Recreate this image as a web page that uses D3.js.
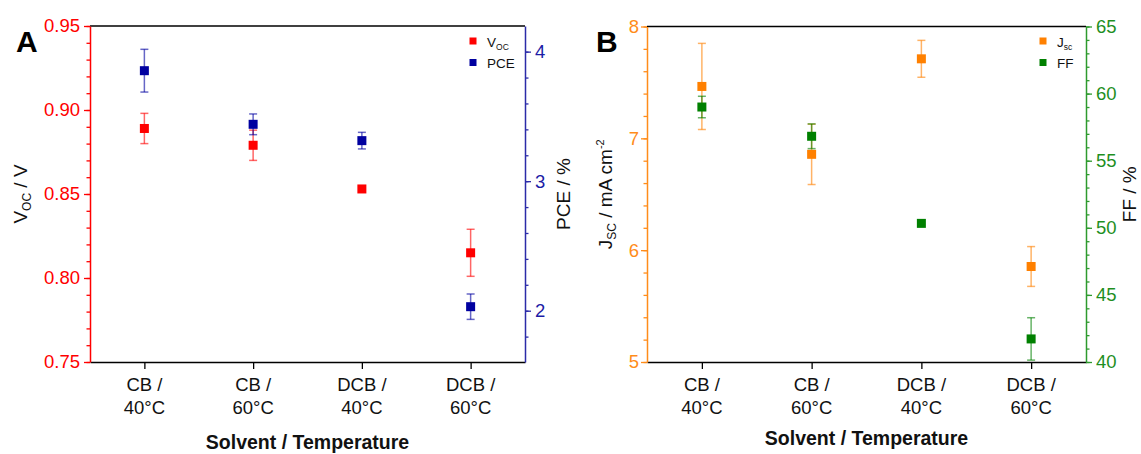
<!DOCTYPE html>
<html>
<head>
<meta charset="utf-8">
<script src="https://cdn.jsdelivr.net/npm/d3@7"></script>
<style>
body { margin: 0; background: #fff; }
svg { font-family: "Liberation Sans", Arial, sans-serif; }
</style>
</head>
<body>
<svg width="1141" height="454"></svg>
<script>
// categories (solvent / temperature)
const categories = ["CB / 40°C", "CB / 60°C", "DCB / 40°C", "DCB / 60°C"];

// panel A
const vocMean = [0.889, 0.879, 0.853, 0.815];
const vocErr = [0.009, 0.009, 0, 0.014];
const pceMean = [3.853, 3.439, 3.313, 2.031];
const pceErr = [0.165, 0.08, 0.064, 0.098];

// panel B
const jscMean = [7.464, 6.857, 7.711, 5.854];
const jscErr = [0.385, 0.27, 0.165, 0.178];
const ffMean = [59.0, 56.82, 50.33, 41.72];
const ffErr = [0.8, 0.92, 0, 1.58];

// tick labels
const vocTicks = [0.75, 0.80, 0.85, 0.90, 0.95];
const pceTicks = [2, 3, 4];
const jscTicks = [5, 6, 7, 8];
const ffTicks = [40, 45, 50, 55, 60, 65];

const svg = d3.select("svg");

function drawPanel(p) {
    const g = svg.append("g");

    const x = d3.scalePoint()
        .domain(categories)
        .range([p.x0, p.x1])
        .padding(0.5);
    const yL = d3.scaleLinear().domain(p.left.domain).range([p.y1, p.y0]);
    const yR = d3.scaleLinear().domain(p.right.domain).range([p.y1, p.y0]);

    // top frame line
    g.append("line")
        .attr("x1", p.x0).attr("x2", p.x1)
        .attr("y1", p.y0).attr("y2", p.y0)
        .attr("stroke", "#000").attr("stroke-width", 1.5);

    // bottom axis
    const xAxis = g.append("g")
        .attr("transform", `translate(0,${p.y1})`)
        .call(d3.axisBottom(x).tickSize(7).tickSizeOuter(0).tickFormat(""));
    xAxis.select(".domain").attr("stroke", "#000").attr("stroke-width", 1.5);
    xAxis.selectAll(".tick line").attr("stroke", "#000").attr("stroke-width", 1.3);

    const xl = g.selectAll(".xlab")
        .data(categories)
        .enter().append("text")
        .attr("class", "xlab")
        .attr("x", d => x(d))
        .attr("text-anchor", "middle")
        .style("font-size", "18.5px")
        .attr("fill", "#111");
    xl.append("tspan").attr("x", d => x(d)).attr("y", p.y1 + 29)
        .text(d => d.split(" / ")[0] + " /");
    xl.append("tspan").attr("x", d => x(d)).attr("y", p.y1 + 52)
        .text(d => d.split(" / ")[1]);

    g.append("text")
        .attr("x", (p.x0 + p.x1) / 2)
        .attr("y", p.y1 + p.titleDy)
        .attr("text-anchor", "middle")
        .style("font-size", "19.5px")
        .style("font-weight", "bold")
        .attr("fill", "#111")
        .text("Solvent / Temperature");

    // y axes with minor ticks
    function yAxis(side, scale, a) {
        const xPos = side === "left" ? p.x0 : p.x1;
        const mk = side === "left" ? d3.axisLeft : d3.axisRight;
        const minor = g.append("g")
            .attr("transform", `translate(${xPos},0)`)
            .call(mk(scale).tickValues(a.minor).tickSize(3.5).tickSizeOuter(0).tickFormat(""));
        minor.select(".domain").remove();
        minor.selectAll("line").attr("stroke", a.color).attr("stroke-width", 1.3);

        const ax = g.append("g")
            .attr("transform", `translate(${xPos},0)`)
            .call(mk(scale).tickValues(a.ticks).tickSize(6).tickSizeOuter(0)
                .tickPadding(a.pad).tickFormat(a.format));
        ax.select(".domain").attr("stroke", a.color).attr("stroke-width", 1.5);
        ax.selectAll(".tick line").attr("stroke", a.color).attr("stroke-width", 1.3);
        ax.selectAll(".tick text")
            .attr("fill", a.textColor)
            .style("font-size", "18.5px")
            .style("font-family", "'Liberation Sans', Arial, sans-serif");
    }
    yAxis("left", yL, p.left);
    yAxis("right", yR, p.right);

    // axis titles
    p.left.title(g.append("text")
        .attr("transform", `translate(${p.left.titleX},${(p.y0 + p.y1) / 2}) rotate(-90)`)
        .attr("text-anchor", "middle")
        .style("font-size", "19px")
        .attr("fill", "#111"));
    p.right.title(g.append("text")
        .attr("transform", `translate(${p.right.titleX},${(p.y0 + p.y1) / 2}) rotate(-90)`)
        .attr("text-anchor", "middle")
        .style("font-size", "19px")
        .attr("fill", "#111"));

    // series: error bars then markers
    p.series.forEach(s => {
        const y = s.axis === "left" ? yL : yR;
        const rows = categories.map((c, i) => ({ c: c, m: s.mean[i], e: s.err[i] }));
        const eb = g.append("g")
            .attr("stroke", s.color)
            .attr("stroke-opacity", 0.6)
            .attr("stroke-width", 1.5);
        const withErr = rows.filter(d => d.e > 0);
        eb.selectAll(".stem").data(withErr).enter().append("line")
            .attr("x1", d => x(d.c)).attr("x2", d => x(d.c))
            .attr("y1", d => y(d.m + d.e)).attr("y2", d => y(d.m - d.e));
        eb.selectAll(".capt").data(withErr).enter().append("line")
            .attr("x1", d => x(d.c) - 4).attr("x2", d => x(d.c) + 4)
            .attr("y1", d => y(d.m + d.e)).attr("y2", d => y(d.m + d.e));
        eb.selectAll(".capb").data(withErr).enter().append("line")
            .attr("x1", d => x(d.c) - 4).attr("x2", d => x(d.c) + 4)
            .attr("y1", d => y(d.m - d.e)).attr("y2", d => y(d.m - d.e));
        g.selectAll(null).data(rows).enter().append("rect")
            .attr("x", d => x(d.c) - 4.5)
            .attr("y", d => y(d.m) - 4.5)
            .attr("width", 9).attr("height", 9)
            .attr("fill", s.color);
    });

    // legend
    p.series.forEach((s, i) => {
        g.append("rect")
            .attr("x", p.legendX - 3.5).attr("y", 37.5 + i * 21.5)
            .attr("width", 7).attr("height", 7)
            .attr("fill", s.color);
        s.legend(g.append("text")
            .attr("x", p.legendX + 14).attr("y", 46.5 + i * 21.5)
            .style("font-size", "13.5px")
            .attr("fill", "#111"));
    });

    // panel letter
    g.append("text")
        .attr("x", p.letterX).attr("y", 52)
        .style("font-size", "30px")
        .style("font-weight", "bold")
        .attr("fill", "#000")
        .text(p.letter);
}

drawPanel({
    x0: 90, x1: 525, y0: 26, y1: 362, titleDy: 87, letter: "A", letterX: 16, legendX: 473,
    left: {
        domain: [0.75, 0.95], ticks: vocTicks, minor: d3.range(0.75, 0.9501, 0.01),
        color: "#ff0000", textColor: "#ff0000", pad: 4, format: d3.format(".2f"), titleX: 27,
        title: t => {
            t.append("tspan").text("V");
            t.append("tspan").style("font-size", "12px").attr("dy", 4).text("OC");
            t.append("tspan").attr("dy", -4).text(" / V");
        }
    },
    right: {
        domain: [1.604, 4.198], ticks: pceTicks, minor: d3.range(1.8, 4.1, 0.2),
        color: "#2b2ba8", textColor: "#1c1ca6", pad: 4, format: d3.format("d"), titleX: 570,
        title: t => t.text("PCE / %")
    },
    series: [
        { mean: vocMean, err: vocErr, color: "#ff0000", axis: "left",
          legend: t => { t.append("tspan").text("V"); t.append("tspan").style("font-size", "8.5px").attr("dy", 3).text("OC"); } },
        { mean: pceMean, err: pceErr, color: "#0000a0", axis: "right",
          legend: t => t.text("PCE") }
    ]
});

drawPanel({
    x0: 647, x1: 1086, y0: 26.5, y1: 362, titleDy: 83, letter: "B", letterX: 596, legendX: 1043,
    left: {
        domain: [5, 8], ticks: jscTicks, minor: d3.range(5, 8.01, 0.2),
        color: "#ff8c1a", textColor: "#ff8c1a", pad: 2, format: d3.format("d"), titleX: 612,
        title: t => {
            t.append("tspan").text("J");
            t.append("tspan").style("font-size", "12px").attr("dy", 4).text("SC");
            t.append("tspan").attr("dy", -4).text(" / mA cm");
            t.append("tspan").style("font-size", "11px").attr("dy", -8).text("-2");
        }
    },
    right: {
        domain: [40, 65], ticks: ffTicks, minor: d3.range(40, 65.01, 1),
        color: "#2e9a2e", textColor: "#1f8f1f", pad: 4, format: d3.format("d"), titleX: 1136,
        title: t => t.text("FF / %")
    },
    series: [
        { mean: jscMean, err: jscErr, color: "#ff8000", axis: "left",
          legend: t => { t.append("tspan").text("J"); t.append("tspan").style("font-size", "8.5px").attr("dy", 3).text("sc"); } },
        { mean: ffMean, err: ffErr, color: "#008000", axis: "right",
          legend: t => t.text("FF") }
    ]
});
</script>
</body>
</html>
